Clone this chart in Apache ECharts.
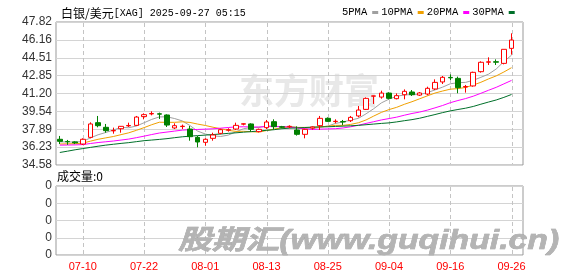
<!DOCTYPE html>
<html><head><meta charset="utf-8">
<script src="https://cdn.jsdelivr.net/npm/echarts@6/dist/echarts.min.js"></script>
<style>html,body{margin:0;padding:0;background:#fff}#c{width:578px;height:276px}</style>
</head><body><div id="c"></div>
<script>
const dates = ['07-07','07-08','07-09','07-10','07-11','07-14','07-15','07-16','07-17','07-18','07-21','07-22','07-23','07-24','07-25','07-28','07-29','07-30','07-31','08-01','08-04','08-05','08-06','08-07','08-08','08-11','08-12','08-13','08-14','08-15','08-18','08-19','08-20','08-21','08-22','08-25','08-26','08-27','08-28','08-29','09-01','09-02','09-03','09-04','09-05','09-08','09-09','09-10','09-11','09-12','09-15','09-16','09-17','09-18','09-19','09-22','09-23','09-24','09-25','09-26'];
const openV  = [36.96,36.76,36.72,36.52,37.14,38.50,38.07,37.74,37.94,38.20,38.25,39.06,39.31,39.32,39.21,38.01,38.14,37.91,37.14,36.68,37.05,37.51,37.80,37.91,38.36,38.38,37.67,38.04,38.59,38.12,38.12,37.82,37.42,38.00,38.22,38.90,38.60,38.60,38.68,39.12,39.73,40.95,40.87,41.24,40.72,41.09,41.34,41.05,41.15,41.62,42.27,42.69,42.60,41.80,41.90,43.22,44.10,44.14,43.99,45.38];
const closeV = [36.77,36.73,36.63,36.96,38.38,38.22,37.76,37.78,38.16,38.24,39.02,39.24,39.35,39.29,38.28,38.22,38.17,37.20,36.71,36.96,37.36,37.85,37.85,38.25,38.40,37.88,37.88,38.56,38.13,38.08,38.16,37.42,37.88,38.10,38.90,38.62,38.63,38.57,38.99,39.67,40.75,40.98,41.24,40.75,41.00,41.40,41.09,41.25,41.68,42.23,42.70,42.65,41.74,41.85,43.16,44.09,44.13,44.10,45.29,46.15];
const lowV   = [36.52,36.45,36.52,36.43,37.05,38.07,37.57,37.48,37.57,38.10,38.19,38.81,39.18,38.84,38.10,37.91,37.91,36.83,36.22,36.37,36.83,37.42,37.67,37.82,38.25,37.67,37.60,37.91,37.88,37.98,37.98,37.30,37.05,37.85,37.82,38.56,38.44,38.28,38.56,38.99,39.67,40.23,40.72,40.66,40.66,40.66,40.97,40.97,41.03,41.52,42.08,42.45,41.22,41.28,41.83,43.13,43.84,43.84,43.90,44.80];
const highV  = [37.27,36.90,36.78,37.05,38.53,39.12,38.38,38.04,38.18,38.50,39.12,39.36,39.55,39.43,39.27,38.44,38.32,38.19,37.27,37.05,37.57,37.94,37.98,38.50,38.44,38.44,37.95,38.75,38.81,38.20,38.25,38.16,37.94,38.16,39.12,38.99,38.81,38.75,39.12,40.04,40.84,41.00,41.46,41.31,41.21,41.58,41.52,41.34,41.83,42.51,42.82,42.97,42.76,41.99,43.22,44.18,44.55,44.36,45.29,46.77];
const ma5  = [36.72,36.72,36.70,36.76,37.09,37.38,37.59,37.82,38.06,38.03,38.19,38.49,38.80,39.03,39.04,38.88,38.66,38.23,37.72,37.45,37.28,37.22,37.35,37.65,37.94,38.05,38.05,38.19,38.17,38.11,38.16,38.07,37.93,37.93,38.09,38.18,38.43,38.56,38.74,38.90,39.32,39.79,40.33,40.68,40.94,41.07,41.10,41.10,41.28,41.53,41.79,42.10,42.20,42.23,42.42,42.70,42.99,43.47,44.15,44.75];
const ma10 = [36.52,36.54,36.55,36.60,36.79,36.96,37.09,37.22,37.39,37.56,37.79,38.04,38.31,38.54,38.53,38.53,38.58,38.52,38.37,38.24,38.08,37.94,37.79,37.69,37.70,37.66,37.63,37.77,37.91,38.02,38.10,38.06,38.06,38.05,38.10,38.17,38.25,38.25,38.34,38.49,38.75,39.11,39.45,39.71,39.92,40.20,40.44,40.71,40.98,41.24,41.43,41.60,41.65,41.76,41.98,42.24,42.55,42.83,43.19,43.59];
const ma20 = [36.42,36.43,36.44,36.47,36.57,36.66,36.73,36.80,36.89,36.98,37.11,37.25,37.40,37.54,37.63,37.72,37.81,37.85,37.87,37.90,37.93,37.99,38.05,38.11,38.12,38.10,38.10,38.14,38.14,38.13,38.09,38.00,37.93,37.87,37.90,37.92,37.94,38.01,38.12,38.26,38.43,38.59,38.75,38.88,39.01,39.19,39.35,39.48,39.66,39.87,40.09,40.35,40.55,40.73,40.95,41.22,41.50,41.77,42.09,42.41];
const ma30 = [35.74,35.86,35.99,36.10,36.21,36.32,36.42,36.50,36.58,36.65,36.74,36.83,36.89,36.95,37.02,37.11,37.19,37.25,37.30,37.35,37.40,37.45,37.51,37.56,37.62,37.67,37.73,37.79,37.85,37.94,37.99,38.01,38.05,38.09,38.11,38.12,38.15,38.18,38.21,38.25,38.31,38.37,38.43,38.48,38.57,38.68,38.78,38.91,39.08,39.25,39.43,39.59,39.72,39.84,40.00,40.21,40.41,40.60,40.84,41.11];
const volume = [0,0,0,0,0,0,0,0,0,0,0,0,0,0,0,0,0,0,0,0,0,0,0,0,0,0,0,0,0,0,0,0,0,0,0,0,0,0,0,0,0,0,0,0,0,0,0,0,0,0,0,0,0,0,0,0,0,0,0,0];
const yTickLabels = ['34.58','36.23','37.89','39.54','41.20','42.85','44.51','46.16','47.82'];
const volTickLabels = ['0','0','0','0','0'];
const xLabelDates = ['07-10','07-22','08-01','08-13','08-25','09-04','09-16','09-26'];
const maNames = ['5PMA','10PMA','20PMA','30PMA'];
const maColors = ['#a0a0a0','#f0a000','#ff00ff','#00702a'];

const yTickVals = yTickLabels.map(Number);
const ohlc = dates.map((d, i) => [openV[i], closeV[i], lowV[i], highV[i]]);
const maData = [ma5, ma10, ma20, ma30];
// one empty trailing slot, as in the reference plot
const axisCats = dates.concat(['']);
const isLabelDay = (idx) => xLabelDates.indexOf(axisCats[idx]) >= 0;
// dashed vertical grid lines at the labelled dates (dashes built from short segments)
function vLine(params, api) {
  const cs = params.coordSys;
  const x = Math.round(api.coord([api.value(0), api.value(1)])[0]) + 0.5;
  const children = [];
  for (let y = cs.y + 1; y < cs.y + cs.height - 1; y += 7) {
    children.push({ type: 'line', silent: true,
      shape: { x1: x, y1: y, x2: x, y2: Math.min(y + 4, cs.y + cs.height - 1) },
      style: { stroke: '#c4c4c4', lineWidth: 1 } });
  }
  return { type: 'group', children: children };
}
const chart = echarts.init(document.getElementById('c'));
const option = {
  animation: false,
  backgroundColor: '#fff',
  title: {
    left: 56, top: 2,
    text: '{a|白银/美元}{b|[XAG] 2025-09-27 05:15}',
    textStyle: {
      rich: {
        a: { fontSize: 12, fontFamily: 'Noto Sans CJK SC', fontWeight: 'normal', color: '#000' },
        b: { fontSize: 10, fontFamily: 'Liberation Mono', fontWeight: 'normal', color: '#000' }
      }
    }
  },
  legend: {
    left: 337, top: 2, align: 'right', icon: 'rect', itemWidth: 6, itemHeight: 3, itemGap: 3,
    selectedMode: false,
    textStyle: { fontSize: 10.5, fontFamily: 'Liberation Mono', color: '#000' },
    data: maNames
  },
  grid: [
    { left: 56, top: 22, width: 467, height: 143, show: true, borderColor: '#999', borderWidth: 1 },
    { left: 56, top: 186, width: 467, height: 69, show: true, borderColor: '#999', borderWidth: 1 }
  ],
  xAxis: [
    { type: 'category', gridIndex: 0, data: axisCats, boundaryGap: true,
      axisLine: { show: false }, axisTick: { show: false }, axisLabel: { show: false }, splitLine: { show: false } },
    { type: 'category', gridIndex: 1, data: axisCats, boundaryGap: true,
      axisLine: { show: false }, axisTick: { show: false }, splitLine: { show: false },
      axisLabel: { show: true, color: '#ff0000', fontSize: 11, fontFamily: 'Liberation Sans', margin: 6,
        interval: isLabelDay } }
  ],
  yAxis: [
    { type: 'value', gridIndex: 0, min: yTickVals[0], max: yTickVals[yTickVals.length - 1],
      axisLine: { show: false }, axisTick: { show: false, customValues: yTickVals },
      axisLabel: { customValues: yTickVals, color: '#333', fontSize: 12, fontFamily: 'Liberation Sans', margin: 4,
        formatter: v => { let k = 0; yTickVals.forEach((t, j) => { if (Math.abs(t - v) < Math.abs(yTickVals[k] - v)) k = j; }); return yTickLabels[k]; } },
      splitLine: { show: true, lineStyle: { color: '#d4d4d4', width: 1 } } },
    { type: 'value', gridIndex: 1, min: 0, max: volTickLabels.length - 1, interval: 1,
      axisLine: { show: false }, axisTick: { show: false },
      axisLabel: { color: '#333', fontSize: 12, fontFamily: 'Liberation Sans', margin: 4,
        formatter: (v, i) => volTickLabels[i] },
      splitLine: { show: true, lineStyle: { color: '#d4d4d4', width: 1 } } }
  ],
  series: [
    { type: 'custom', name: 'vgrid0', xAxisIndex: 0, yAxisIndex: 0, z: 1, silent: true, clip: false,
      data: xLabelDates.map(d => [d, yTickVals[0]]), encode: { x: 0, y: 1 }, renderItem: vLine },
    { type: 'custom', name: 'vgrid1', xAxisIndex: 1, yAxisIndex: 1, z: 1, silent: true, clip: false,
      data: xLabelDates.map(d => [d, 0]), encode: { x: 0, y: 1 }, renderItem: vLine },
    { type: 'bar', name: 'vol', xAxisIndex: 1, yAxisIndex: 1, data: volume, barWidth: 5,
      itemStyle: { color: '#ff0000' }, z: 2 },
    { type: 'candlestick', name: 'XAG', xAxisIndex: 0, yAxisIndex: 0, data: ohlc, barWidth: 5, z: 4,
      itemStyle: { color: '#ffffff', color0: '#008000', borderColor: '#ff0000', borderColor0: '#008000', borderWidth: 1 } }
  ].concat(maNames.map((n, k) => ({
    type: 'line', name: n, xAxisIndex: 0, yAxisIndex: 0, data: maData[k], symbol: 'none', z: 3,
    lineStyle: { color: maColors[k], width: 1 }, itemStyle: { color: maColors[k] }
  }))),
  graphic: [
    { type: 'text', x: 239, y: 73, z: 0, silent: true,
      style: { text: '东方财富', font: 'bold 35px "Noto Sans CJK SC"', fill: '#e8e8e8', textVerticalAlign: 'top' } },
    { type: 'text', left: 57, top: 170, silent: true,
      style: { text: '成交量:0', font: '12px "Noto Sans CJK SC"', fill: '#000' } },
    { type: 'text', x: 178, y: 228, scaleX: 1.25, z: 100, silent: true,
      style: { text: '股期汇(www.guqihui.cn)', font: 'italic bold 27px "Liberation Sans", "Noto Sans CJK SC"', fill: '#b4b4b4', stroke: '#999', lineWidth: 0.5, textVerticalAlign: 'top' } }
  ]
};
chart.setOption(option);
</script></body></html>
